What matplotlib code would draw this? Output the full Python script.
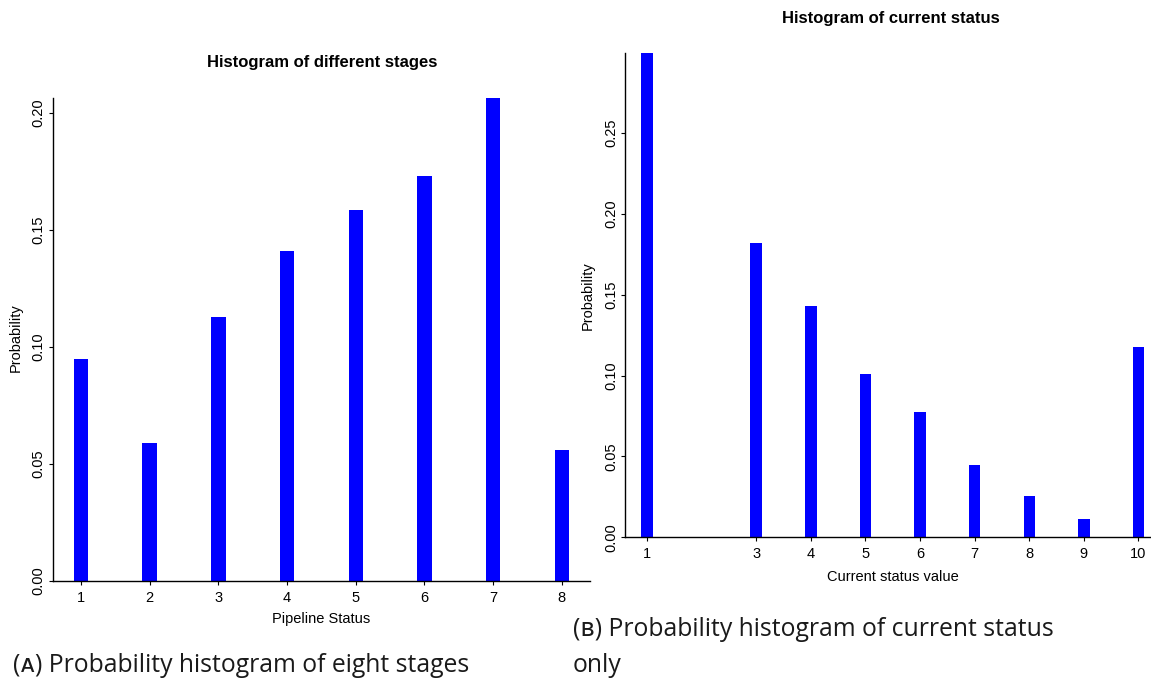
import matplotlib
matplotlib.use("Agg")
import matplotlib.pyplot as plt
from matplotlib import font_manager

# ---- data ----
stages = [1, 2, 3, 4, 5, 6, 7, 8]
stage_prob = [0.0950, 0.0588, 0.1127, 0.1409, 0.1585, 0.1732, 0.2065, 0.0558]

status = [1, 3, 4, 5, 6, 7, 8, 9, 10]
status_prob = [0.2992, 0.1821, 0.1430, 0.1011, 0.0772, 0.0450, 0.0256, 0.0114, 0.1177]

left_yticks = [0.00, 0.05, 0.10, 0.15, 0.20]
right_yticks = [0.00, 0.05, 0.10, 0.15, 0.20, 0.25]

title_a = "Histogram of different stages"
title_b = "Histogram of current status"
xlabel_a = "Pipeline Status"
xlabel_b = "Current status value"
ylabel = "Probability"
caption_a = "(\u1d00) Probability histogram of eight stages"
caption_b1 = "(\u0299) Probability histogram of current status"
caption_b2 = "only"

# ---- fonts ----
avail = {f.name for f in font_manager.fontManager.ttflist}
base_font = "Liberation Sans" if "Liberation Sans" in avail else "DejaVu Sans"
cap_font = None
for cand in ["Open Sans", "Noto Sans", "Lato", "Roboto"]:
    if cand in avail:
        cap_font = cand
        break
if cap_font is None:
    cap_font = "DejaVu Sans"
plt.rcParams["font.family"] = [base_font, "DejaVu Sans"]

W, H = 1151, 686
fig = plt.figure(figsize=(W / 100, H / 100), dpi=100)

def px_axes(x0, y0, x1, y1):
    return fig.add_axes([x0 / W, 1 - y1 / H, (x1 - x0) / W, (y1 - y0) / H])

BLUE = "#0000ff"
TICK_FS = 10.5
LAB_FS = 10.5

def style(ax, yticks):
    for s in ["top", "right"]:
        ax.spines[s].set_visible(False)
    for s in ["left", "bottom"]:
        ax.spines[s].set_linewidth(1.0)
        ax.spines[s].set_color("black")
    ax.tick_params(axis="both", direction="out", length=3.2, width=0.8,
                   labelsize=TICK_FS, colors="black")
    ax.tick_params(axis="y", pad=2)
    ax.tick_params(axis="x", pad=4)
    ax.set_yticks(yticks)
    ax.set_yticklabels([f"{v:.2f}" for v in yticks], rotation=90, va="center")

# ---- left panel ----
axA = px_axes(53, 97.9, 590, 580.7)
axA.bar(stages, stage_prob, width=0.21, color=BLUE, edgecolor="none")
axA.set_xlim(0.593, 8.41)
axA.set_ylim(0, max(stage_prob))
axA.set_xticks(stages)
style(axA, left_yticks)
fig.text(322 / W, 1 - 62 / H, title_a, ha="center", va="center",
         fontsize=12, fontweight="bold")
fig.text(321 / W, 1 - 619 / H, xlabel_a, ha="center", va="center", fontsize=LAB_FS)
fig.text(16 / W, 1 - 338 / H, ylabel, ha="center", va="center", rotation=90,
         fontsize=LAB_FS)

# ---- right panel ----
axB = px_axes(625.3, 53.3, 625.3 + 535, 537.3)
axB.bar(status, status_prob, width=0.21, color=BLUE, edgecolor="none")
axB.set_xlim(0.603, 10.4)
axB.set_ylim(0, max(status_prob))
axB.set_xticks(status)
style(axB, right_yticks)
fig.text(891 / W, 1 - 19 / H, title_b, ha="center", va="center",
         fontsize=12, fontweight="bold")
fig.text(893 / W, 1 - 577 / H, xlabel_b, ha="center", va="center", fontsize=LAB_FS)
fig.text(588 / W, 1 - 296 / H, ylabel, ha="center", va="center", rotation=90,
         fontsize=LAB_FS)

# ---- captions ----
cap_family = [cap_font, "DejaVu Sans"]
CAP_COLOR = "#1a1a1a"
tA = fig.text(13 / W, 1 - 672 / H, caption_a, ha="left", va="baseline",
              fontsize=16, family=cap_family, color=CAP_COLOR)
tB1 = fig.text(573 / W, 1 - 636 / H, caption_b1, ha="left", va="baseline",
               fontsize=16, family=cap_family, color=CAP_COLOR)
tB2 = fig.text(573 / W, 1 - 672 / H, caption_b2, ha="left", va="baseline",
               fontsize=16, family=cap_family, color=CAP_COLOR)

# fit caption size to the reference width of caption A (~457 px)
fig.canvas.draw()
r = fig.canvas.get_renderer()
wA = tA.get_window_extent(r).width
fs = 16 * 457.0 / wA
for t in (tA, tB1, tB2):
    t.set_fontsize(fs)

fig.savefig("out.png", dpi=100)
